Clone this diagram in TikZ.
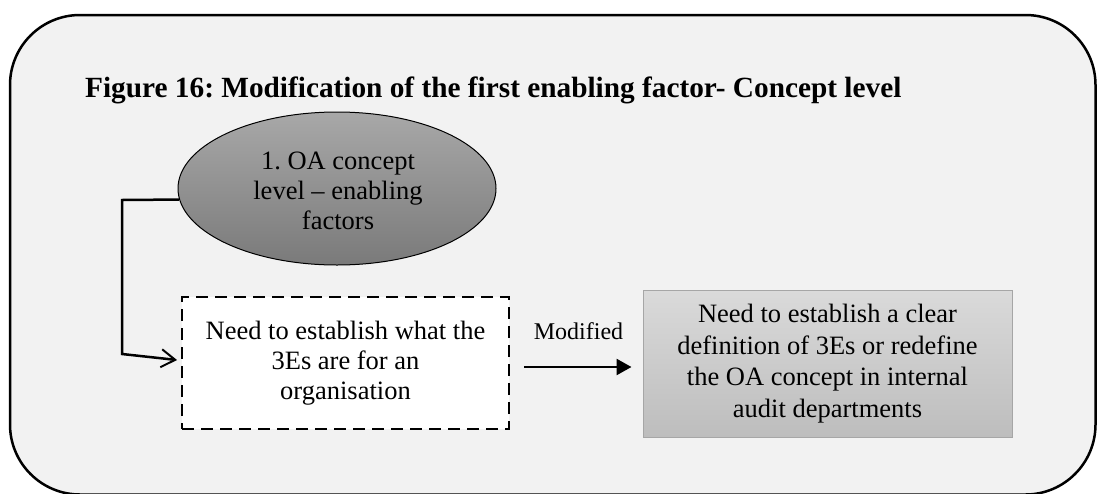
\documentclass[tikz,border=0pt]{standalone}
\usepackage{fontspec}
\setmainfont{Liberation Serif}
\usetikzlibrary{arrows.meta,shapes.geometric}
\frenchspacing

\definecolor{panelbg}{HTML}{F2F2F2}
\definecolor{elltop}{HTML}{A8A8A8}
\definecolor{ellbot}{HTML}{7A7A7A}
\definecolor{boxtop}{HTML}{DADADA}
\definecolor{boxbot}{HTML}{BDBDBD}
\definecolor{boxline}{HTML}{A6A6A6}

\tikzset{
  bodytext/.style={font=\fontsize{26.5}{30}\selectfont, align=center},
  factor/.style={ellipse, draw=black, line width=1pt, top color=elltop, bottom color=ellbot,
    minimum width=318pt, minimum height=153pt, inner sep=0pt},
  oldbox/.style={rectangle, draw=black, fill=white, line width=2.5pt,
    dash pattern=on 12pt off 7pt, minimum width=327pt, minimum height=132pt, bodytext},
  newbox/.style={rectangle, draw=boxline, line width=1pt, top color=boxtop, bottom color=boxbot,
    minimum width=369pt, minimum height=147pt, bodytext,
    font=\fontsize{26.5}{31.5}\selectfont},
  link/.style={line width=2.5pt},
}

\begin{document}
\begin{tikzpicture}[x=1pt,y=-1pt]
  \useasboundingbox (0,0) rectangle (1097,493);
  \clip (0,0) rectangle (1097,493);

  % rounded panel
  \draw[fill=panelbg, line width=2.5pt, rounded corners=70pt] (10,15) rectangle (1095.5,494.5);

  % heading
  \node (title) [anchor=base west, inner sep=0pt, font=\fontsize{29.3}{34}\selectfont\bfseries]
    at (85,97) {Figure 16: Modification of the first enabling factor- Concept level};

  % enabling-factor ellipse and its text (base = last line)
  \node (ell) [factor] at (337,188.5) {};
  \node (elltext) [bodytext, anchor=base, inner sep=0pt] at (338,229) {1. OA concept\\level -- enabling\\factors};

  % boxes
  \node (old) [oldbox] at (345.5,363) {Need to establish what the\\3Es are for an\\organisation};
  \node (new) [newbox] at (827.5,363.5) {Need to establish a clear\\definition of 3Es or redefine\\the OA concept in internal\\audit departments};

  % elbow connector into the dashed box
  \coordinate (bendA) at (122,200);
  \coordinate (bendB) at (122,354);
  \coordinate (tip) at (177,360);
  \draw[link, -{Straight Barb[length=14pt,width=18pt,line width=2pt]}]
    (ell.184) -- (bendA) -- (bendB) -- (tip);

  % modification arrow
  \draw[link, -{Triangle[length=15pt,width=16pt]}]
    ([xshift=14pt,yshift=-4pt]old.east) -- ([xshift=-11pt,yshift=-3.5pt]new.west);
  \node (modlbl) [anchor=base, inner sep=0pt, font=\fontsize{24}{28}\selectfont] at (578.5,339) {Modified};
\end{tikzpicture}
\end{document}
